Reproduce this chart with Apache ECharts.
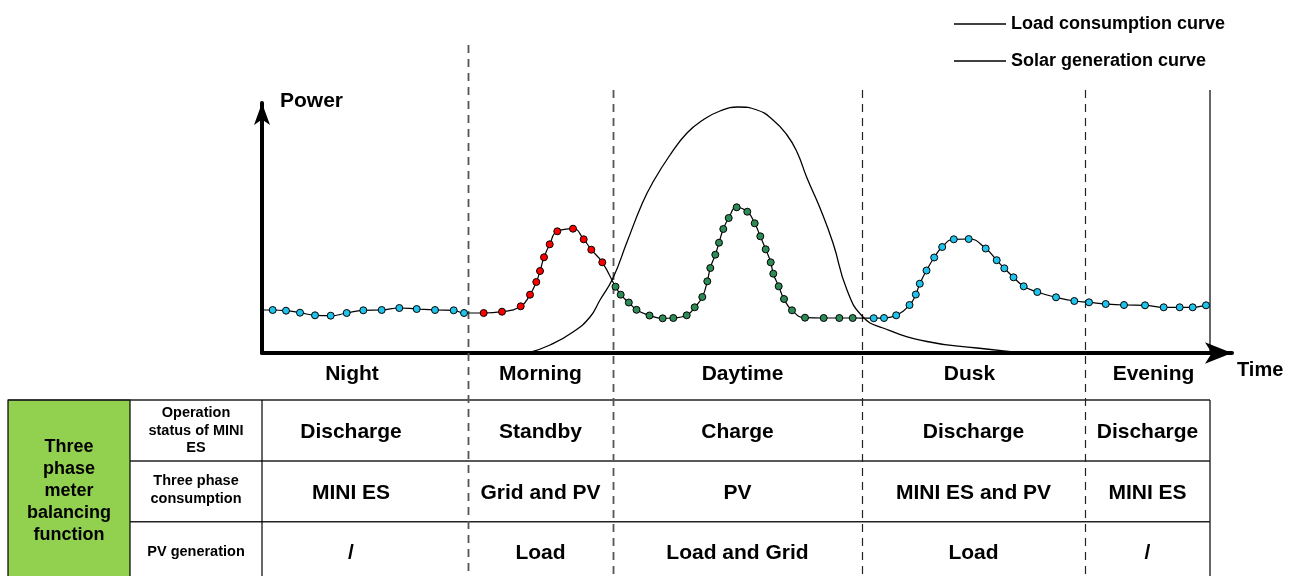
<!DOCTYPE html>
<html>
<head>
<meta charset="utf-8">
<title>Three phase meter balancing function</title>
<script src="https://cdn.jsdelivr.net/npm/echarts/dist/echarts.min.js"></script>
<style>
  html, body { margin: 0; padding: 0; background: #fff; }
  #chart { width: 1298px; height: 576px; }
</style>
</head>
<body>
<div id="chart"></div>
<script>
// time in tenths of the drawing width (0 = origin), power in arbitrary units
const regionNames = ['Night', 'Morning', 'Daytime', 'Dusk', 'Evening'];
const regionEdges = [0, 20.6, 35.1, 60.0, 82.3, 94.8];

const rowLabels = ['Operation\nstatus of MINI\nES', 'Three phase\nconsumption', 'PV generation'];
const statusRow = ['Discharge', 'Standby', 'Charge', 'Discharge', 'Discharge'];
const consumptionRow = ['MINI ES', 'Grid and PV', 'PV', 'MINI ES and PV', 'MINI ES'];
const pvRow = ['/', 'Load', 'Load and Grid', 'Load', '/'];
const sideTitle = 'Three\nphase\nmeter\nbalancing\nfunction';

const loadStart = [[0, 4.3]];
const loadNight = [
  [1.07, 4.3], [2.4, 4.23], [3.8, 4.03], [5.3, 3.77], [6.87, 3.73], [8.47, 4.0],
  [10.13, 4.27], [11.97, 4.3], [13.73, 4.5], [15.47, 4.4], [17.3, 4.3], [19.17, 4.27], [20.2, 4.0]
];
const loadMorning = [
  [22.17, 4.0], [24.0, 4.13], [25.87, 4.67], [26.8, 5.83], [27.43, 7.1], [27.8, 8.2],
  [28.2, 9.57], [28.77, 10.87], [29.53, 12.17], [31.1, 12.43], [32.17, 11.37], [32.93, 10.33], [34.03, 9.07]
];
const loadDaytime = [
  [35.35, 6.63], [35.87, 5.83], [36.68, 5.05], [37.45, 4.32], [38.75, 3.75], [40.07, 3.47],
  [41.13, 3.5], [42.47, 3.77], [43.27, 4.57], [44.03, 5.6], [44.53, 7.17], [44.83, 8.5],
  [45.33, 9.83], [45.7, 11.03], [46.13, 12.4], [46.67, 13.5], [47.47, 14.57], [48.53, 14.13],
  [49.27, 12.97], [49.83, 11.67], [50.37, 10.37], [50.87, 9.07], [51.13, 7.93], [51.67, 6.67],
  [52.2, 5.4], [53.0, 4.27], [54.3, 3.53], [56.17, 3.5], [57.73, 3.5], [59.07, 3.5]
];
const loadEvening = [
  [61.17, 3.48], [62.2, 3.5], [63.42, 3.77], [64.75, 4.8], [65.38, 5.85], [65.78, 6.93],
  [66.45, 8.25], [67.22, 9.55], [68.02, 10.6], [69.18, 11.37], [70.67, 11.4], [72.37, 10.45],
  [73.47, 9.28], [74.23, 8.47], [75.15, 7.57], [76.17, 6.67], [77.53, 6.1], [79.4, 5.57],
  [81.23, 5.2], [82.7, 5.07], [84.37, 4.9], [86.2, 4.8], [88.3, 4.77], [90.17, 4.57],
  [91.77, 4.57], [93.07, 4.57], [94.4, 4.77]
];
const loadEnd = [[94.8, 4.8]];

const solarCurve = [
  [26.6, 0], [28.8, 0.8], [31.1, 2.1], [32.8, 3.6], [33.8, 5.3], [35.1, 7.5], [36.5, 11.1],
  [38.0, 14.9], [39.1, 17.1], [40.8, 19.8], [42.5, 22.0], [44.1, 23.3], [45.8, 24.2],
  [47.6, 24.6], [49.5, 24.3], [51.1, 23.3], [52.5, 21.8], [53.5, 20.1], [54.5, 17.5],
  [55.8, 14.5], [57.1, 11.0], [58.5, 6.3], [60.1, 3.6], [62.1, 2.5], [66.5, 1.15],
  [71.5, 0.5], [75.5, 0.1], [76.8, 0]
];

const FONT = '"Liberation Sans", Arial, sans-serif';
const BLUE = '#1fc3ec';
const RED = '#ff0000';
const GREEN = '#2e8b57';

function dots(list, color) {
  return list.map(v => ({ value: v, itemStyle: { color: color } }));
}
function bare(list) {
  return list.map(v => ({ value: v, symbol: 'none' }));
}

const loadData = [].concat(
  bare(loadStart),
  dots(loadNight, BLUE),
  dots(loadMorning, RED),
  dots(loadDaytime, GREEN),
  dots(loadEvening, BLUE),
  bare(loadEnd)
);

const chart = echarts.init(document.getElementById('chart'));

chart.setOption({
  animation: false,
  backgroundColor: '#fff',
  legend: {
    left: 954,
    top: 15,
    padding: 0,
    orient: 'vertical',
    itemGap: 19,
    itemWidth: 52,
    itemHeight: 1.5,
    icon: 'rect',
    selectedMode: false,
    textStyle: { fontFamily: FONT, fontWeight: 'bold', fontSize: 18, lineHeight: 18, color: '#000' },
    data: [
      { name: 'Load consumption curve', itemStyle: { color: '#000', borderWidth: 0 } },
      { name: 'Solar generation curve', itemStyle: { color: '#000', borderWidth: 0 } }
    ]
  },
  grid: { left: 262, top: 103, width: 970, height: 250 },
  xAxis: {
    type: 'value',
    min: 0,
    max: 97,
    name: 'Time',
    nameLocation: 'end',
    nameGap: 5,
    nameTextStyle: {
      fontFamily: FONT, fontWeight: 'bold', fontSize: 20, color: '#000',
      align: 'left', verticalAlign: 'top', lineHeight: 34
    },
    axisLine: {
      show: true,
      symbol: ['none', 'arrow'],
      symbolSize: [16, 27],
      lineStyle: { color: '#000', width: 4 }
    },
    axisTick: { show: false },
    axisLabel: { show: false },
    splitLine: { show: false }
  },
  yAxis: {
    type: 'value',
    min: 0,
    max: 25,
    name: 'Power',
    nameLocation: 'end',
    nameGap: 2,
    nameTextStyle: {
      fontFamily: FONT, fontWeight: 'bold', fontSize: 21, color: '#000',
      align: 'left', verticalAlign: 'middle', padding: [0, 0, 0, 18]
    },
    axisLine: {
      show: true,
      symbol: ['none', 'arrow'],
      symbolSize: [12, 22],
      lineStyle: { color: '#000', width: 4 }
    },
    axisTick: { show: false },
    axisLabel: { show: false },
    splitLine: { show: false }
  },
  series: [
    {
      name: 'Solar generation curve',
      type: 'line',
      smooth: 0.5,
      showSymbol: false,
      data: solarCurve,
      lineStyle: { color: '#000', width: 1.3 },
      itemStyle: { color: '#000' },
      z: 2
    },
    {
      name: 'Load consumption curve',
      type: 'line',
      smooth: 0.5,
      symbol: 'circle',
      symbolSize: 7,
      showAllSymbol: true,
      data: loadData,
      lineStyle: { color: '#000', width: 1.2 },
      itemStyle: { borderColor: '#000', borderWidth: 1 },
      z: 3
    }
  ]
});

// boundaries, table and labels placed through the chart's own x scale
const px = t => chart.convertToPixel({ xAxisIndex: 0 }, t);
const py = v => chart.convertToPixel({ yAxisIndex: 0 }, v);
const axisY = py(0);
const tableTop = 400;
const rowLines = [400, 461, 521.7];
const rowTextY = [432, 493, 553];
const labelColX = [130, 262];
const tableLeft = 8;
const H = 576;
const rightX = px(regionEdges[regionEdges.length - 1]);
const colNudge = [-14, 0, 0, 0, 0];
const regionNudge = [-13, 0, 5, -4, 6];

const graphics = [];
const textStyle = (size) => ({ fontFamily: FONT, fontWeight: 'bold', fontSize: size, fill: '#000' });

// dashed region boundaries
for (let i = 1; i < regionEdges.length - 1; i++) {
  const x = Math.round(px(regionEdges[i])) + 0.5;
  const thin = i > 2;
  graphics.push({
    type: 'line', silent: true, z: 1,
    shape: { x1: x, y1: i === 1 ? 45 : 90, x2: x, y2: H },
    style: { stroke: thin ? '#222' : '#555', lineWidth: thin ? 1.2 : 1.8, lineDash: [8, 6] }
  });
}
// solid right edge (above axis and in table)
graphics.push({
  type: 'line', silent: true,
  shape: { x1: rightX, y1: 90, x2: rightX, y2: axisY - 2 },
  style: { stroke: '#000', lineWidth: 1.2 }
});
graphics.push({
  type: 'line', silent: true,
  shape: { x1: rightX, y1: tableTop, x2: rightX, y2: H },
  style: { stroke: '#000', lineWidth: 1.2 }
});

// green side cell
graphics.push({
  type: 'rect', silent: true,
  shape: { x: tableLeft, y: tableTop, width: labelColX[0] - tableLeft, height: H - tableTop + 2 },
  style: { fill: '#92d050', stroke: '#000', lineWidth: 1.2 }
});
graphics.push({
  type: 'text', silent: true,
  style: Object.assign(textStyle(18), {
    text: sideTitle, x: (tableLeft + labelColX[0]) / 2, y: 491,
    align: 'center', verticalAlign: 'middle', lineHeight: 22
  })
});
// horizontal table lines
rowLines.forEach((y, i) => {
  graphics.push({
    type: 'line', silent: true,
    shape: { x1: i === 0 ? tableLeft : labelColX[0], y1: y, x2: rightX, y2: y },
    style: { stroke: '#222', lineWidth: 1.6 }
  });
});
// label column right edge
graphics.push({
  type: 'line', silent: true,
  shape: { x1: labelColX[1], y1: tableTop, x2: labelColX[1], y2: H },
  style: { stroke: '#000', lineWidth: 1.2 }
});
// row labels
const rowLabelY = [430.5, 490, 552];
rowLabels.forEach((label, i) => {
  graphics.push({
    type: 'text', silent: true,
    style: Object.assign(textStyle(14.5), {
      text: label, x: (labelColX[0] + labelColX[1]) / 2, y: rowLabelY[i],
      align: 'center', verticalAlign: 'middle', lineHeight: 17.5
    })
  });
});

// region names under the time axis and table cells
const rows = [statusRow, consumptionRow, pvRow];
regionNames.forEach((name, i) => {
  const cx = (px(regionEdges[i]) + px(regionEdges[i + 1])) / 2;
  graphics.push({
    type: 'text', silent: true,
    style: Object.assign(textStyle(21), {
      text: name, x: cx + regionNudge[i], y: 374, align: 'center', verticalAlign: 'middle'
    })
  });
  rows.forEach((row, r) => {
    graphics.push({
      type: 'text', silent: true,
      style: Object.assign(textStyle(21), {
        text: row[i], x: cx + colNudge[i], y: rowTextY[r], align: 'center', verticalAlign: 'middle'
      })
    });
  });
});

chart.setOption({ graphic: { elements: graphics } });
</script>
</body>
</html>
